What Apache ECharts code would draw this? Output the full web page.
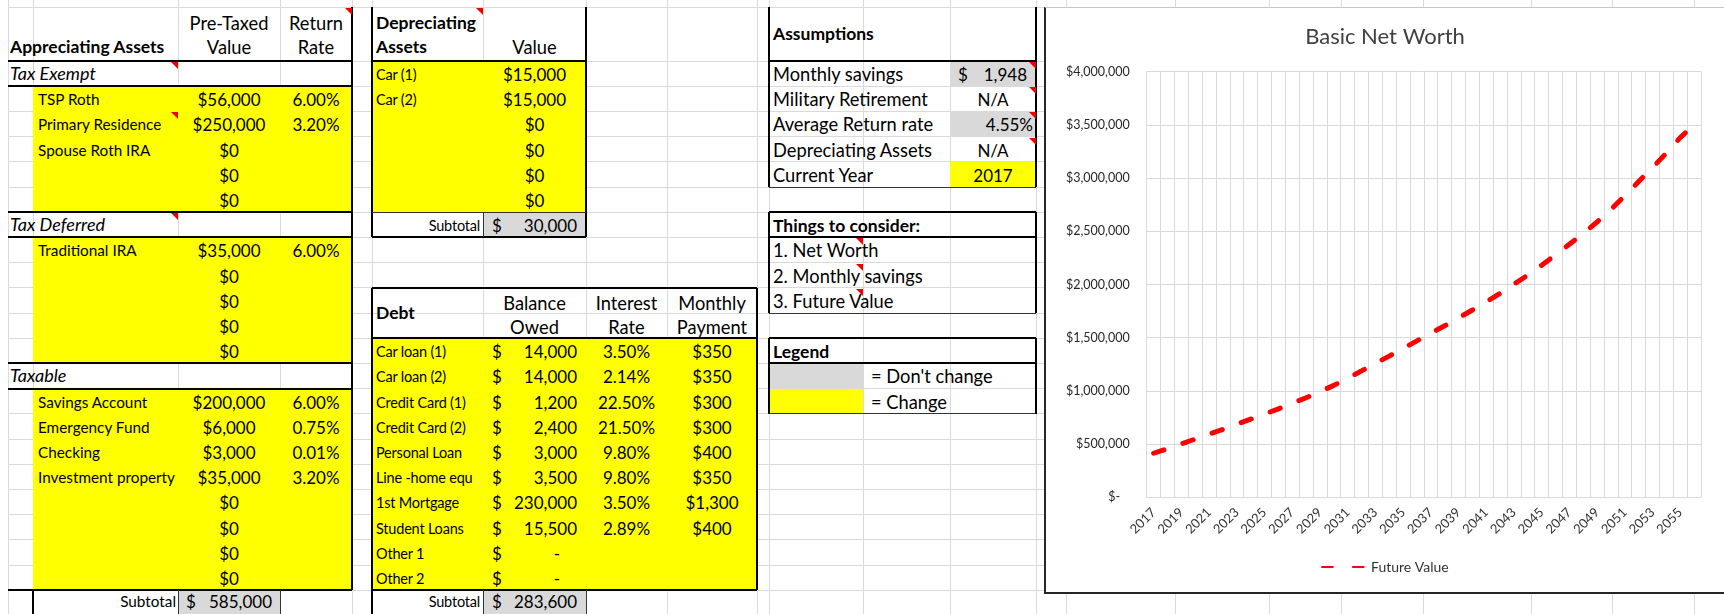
<!DOCTYPE html>
<html>
<head>
<meta charset="utf-8">
<script src="https://cdn.jsdelivr.net/npm/echarts@6/dist/echarts.min.js"></script>
<style>
html, body { margin: 0; padding: 0; background: #fff; overflow: hidden; width: 1724px; height: 614px; }
#sheet { position: absolute; left: 0; top: 0; width: 1724px; height: 614px; overflow: hidden; font-family: Lato, 'Noto Sans', sans-serif; color: #000; }
#sheet div { position: absolute; box-sizing: border-box; white-space: nowrap; }
#frame { position: absolute; left: 1044px; top: 7px; width: 720px; height: 587px; background: #fff;
  border-left: 2px solid #262626; border-bottom: 2px solid #262626; border-top: 1px solid #c8c8c8; box-sizing: border-box; }
#chart { position: absolute; left: 1046px; top: 9px; width: 690px; height: 583px; }
</style>
</head>
<body>
<div id="sheet"></div>
<div id="frame"></div>
<div id="chart"></div>
<script>
// ---- chart data ----
const years = ['2017','2018','2019','2020','2021','2022','2023','2024','2025','2026',
               '2027','2028','2029','2030','2031','2032','2033','2034','2035','2036',
               '2037','2038','2039','2040','2041','2042','2043','2044','2045','2046',
               '2047','2048','2049','2050','2051','2052','2053','2054','2055','2056']
const futureValue = [414000, 458000, 502000, 548000, 594000, 639000, 686000, 734000, 782000, 831000,
                     883000, 936000, 992000, 1052000, 1118000, 1188000, 1259000, 1327000, 1398000, 1470000,
                     1542000, 1612000, 1685000, 1760000, 1837000, 1916000, 2002000, 2088000, 2181000, 2277000,
                     2378000, 2480000, 2587000, 2705000, 2834000, 2967000, 3099000, 3234000, 3381000, 3500000]

// ---- sheet content ----
const taxExempt = [['TSP Roth', '$56,000', '6.00%'], ['Primary Residence', '$250,000', '3.20%'],
                   ['Spouse Roth IRA', '$0', ''], ['', '$0', ''], ['', '$0', '']]
const taxDeferred = [['Traditional IRA', '$35,000', '6.00%'], ['', '$0', ''], ['', '$0', ''], ['', '$0', ''], ['', '$0', '']]
const taxable = [['Savings Account', '$200,000', '6.00%'], ['Emergency Fund', '$6,000', '0.75%'],
                 ['Checking', '$3,000', '0.01%'], ['Investment property', '$35,000', '3.20%'],
                 ['', '$0', ''], ['', '$0', ''], ['', '$0', ''], ['', '$0', '']]
const depreciating = [['Car (1)', '$15,000'], ['Car (2)', '$15,000'], ['', '$0'], ['', '$0'], ['', '$0'], ['', '$0']]
const debts = [['Car loan (1)', '14,000', '3.50%', '$350'], ['Car loan (2)', '14,000', '2.14%', '$350'],
               ['Credit Card (1)', '1,200', '22.50%', '$300'], ['Credit Card (2)', '2,400', '21.50%', '$300'],
               ['Personal Loan', '3,000', '9.80%', '$400'], ['Line -home equ', '3,500', '9.80%', '$350'],
               ['1st Mortgage', '230,000', '3.50%', '$1,300'], ['Student Loans', '15,500', '2.89%', '$400'],
               ['Other 1', '-', '', ''], ['Other 2', '-', '', '']]
const assumptions = ['Monthly savings', 'Military Retirement', 'Average Return rate', 'Depreciating Assets', 'Current Year']
const considerations = ['1. Net Worth', '2. Monthly savings', '3. Future Value']

const sheet = document.getElementById('sheet')
const H = 25.2
const rowY = r => 61 + H * r
const GRID = '#dadada'
const YELLOW = '#ffff00'
const GREY = '#d9d9d9'

function rect (x1, y1, x2, y2, css) {
    let d = document.createElement('div')
    d.style.left = x1 + 'px'
    d.style.top = y1 + 'px'
    d.style.width = (x2 - x1) + 'px'
    d.style.height = (y2 - y1) + 'px'
    Object.assign(d.style, css || {})
    sheet.appendChild(d)
    return d
}
function text (x1, x2, y1, y2, str, align, css) {
    if (!str) return
    let d = rect(x1, y1, x2, y2, Object.assign({
        lineHeight: (y2 - y1) + 'px', textAlign: align || 'left', fontSize: '17px'
    }, css))
    d.textContent = str
}
function hline (x1, x2, y, w, c) { rect(x1, y - w / 2, x2, y + w / 2, { background: c || '#000' }) }
function vline (x, y1, y2, w, c) { rect(x - w / 2, y1, x + w / 2, y2, { background: c || '#000' }) }
function flag (x, y) {
    rect(x - 7, y + 1, x, y + 8, { width: '0px', height: '0px', borderTop: '7px solid #e00', borderLeft: '7px solid transparent' })
}
const LABEL = { fontSize: '15.3px' }        // labels inside the asset tables
const SMALL = { fontSize: '14.5px', letterSpacing: '-0.2px' }
const WORD = { fontSize: '18.3px' }         // plain words in the Calibri look
const BOLD = { fontWeight: 'bold', fontSize: '17.5px' }
const ITAL = { fontStyle: 'italic', fontSize: '18px' }

// gridlines
const cols = [8, 33, 178, 280, 352, 372, 483, 586, 667, 757, 769, 863, 950, 1036, 1066, 1175, 1269, 1341, 1423, 1531, 1612, 1694]
cols.forEach(x => vline(x, 0, 614, 1, GRID))
hline(8, 1724, 7, 1, GRID)
for (let r = 0; r <= 22; r++) hline(8, 1724, rowY(r), 1, GRID)

// fills
rect(33, rowY(1), 352, rowY(6), { background: YELLOW })
rect(33, rowY(7), 352, rowY(12), { background: YELLOW })
rect(33, rowY(13), 352, rowY(21), { background: YELLOW })
rect(178, rowY(21), 280, 614, { background: GREY })
rect(372, rowY(0), 586, rowY(6), { background: YELLOW })
rect(483, rowY(6), 586, rowY(7), { background: GREY })
rect(372, rowY(11), 757, rowY(21), { background: YELLOW })
rect(483, rowY(21), 586, 614, { background: GREY })
rect(950, rowY(0), 1036, rowY(1), { background: GREY })
rect(950, rowY(2), 1036, rowY(3), { background: GREY })
rect(950, rowY(4), 1036, rowY(5), { background: YELLOW })
rect(769, rowY(12), 863, rowY(13), { background: GREY })
rect(769, rowY(13), 863, rowY(14), { background: YELLOW })

// appreciating assets table
;[61, rowY(1), rowY(6), rowY(7), rowY(12), rowY(13), rowY(21)].forEach(y => hline(8, 352, y, 2))
vline(352, 7, rowY(21), 2)
vline(33, rowY(21), 614, 2)
vline(178, rowY(21), 614, 1, '#333')
vline(280, rowY(21), 614, 1, '#333')
text(10, 178, 34, 60, 'Appreciating Assets', 'left', BOLD)
text(178, 280, 11, 35, 'Pre-Taxed', 'center', WORD)
text(178, 280, 35, 59, 'Value', 'center', WORD)
text(280, 352, 11, 35, 'Return', 'center', WORD)
text(280, 352, 35, 59, 'Rate', 'center', WORD)
function assetRows (rows, r0) {
    rows.forEach((row, i) => {
        let y1 = rowY(r0 + i) + 1, y2 = rowY(r0 + i + 1) + 1
        text(38, 178, y1, y2, row[0], 'left', LABEL)
        text(178, 280, y1, y2, row[1], 'center')
        text(280, 352, y1, y2, row[2], 'center')
    })
}
text(10, 178, rowY(0), rowY(1), 'Tax Exempt', 'left', ITAL)
assetRows(taxExempt, 1)
text(10, 178, rowY(6), rowY(7), 'Tax Deferred', 'left', ITAL)
assetRows(taxDeferred, 7)
text(10, 178, rowY(12), rowY(13), 'Taxable', 'left', ITAL)
assetRows(taxable, 13)
text(33, 176, rowY(21), 614, 'Subtotal', 'right', LABEL)
text(186, 280, rowY(21), 614, '$', 'left')
text(178, 272, rowY(21), 614, '585,000', 'right')
flag(352, 7); flag(178, rowY(0)); flag(178, rowY(2)); flag(178, rowY(6))

// depreciating assets table
vline(372, 7, rowY(7), 2)
vline(586, 7, rowY(7), 2)
hline(372, 586, 61, 2)
hline(372, 586, rowY(6), 1, '#333')
hline(372, 586, rowY(7), 2)
vline(483, rowY(6), rowY(7), 1, '#333')
text(376, 483, 11, 35, 'Depreciating', 'left', BOLD)
text(376, 483, 35, 59, 'Assets', 'left', BOLD)
text(483, 586, 35, 59, 'Value', 'center', WORD)
depreciating.forEach((row, i) => {
    text(376, 483, rowY(i) + 1, rowY(i + 1) + 1, row[0], 'left', SMALL)
    text(483, 586, rowY(i) + 1, rowY(i + 1) + 1, row[1], 'center')
})
text(372, 480, rowY(6) + 1, rowY(7) + 1, 'Subtotal', 'right', SMALL)
text(492, 586, rowY(6) + 1, rowY(7) + 1, '$', 'left')
text(483, 577, rowY(6) + 1, rowY(7) + 1, '30,000', 'right')
flag(483, 7)

// debt table
hline(372, 757, rowY(9), 2)
hline(372, 757, rowY(11), 2)
hline(372, 757, rowY(21), 2)
vline(372, rowY(9), 614, 2)
vline(757, rowY(9), rowY(21), 2)
vline(483, rowY(21), 614, 1, '#333')
vline(586, rowY(21), 614, 1, '#333')
text(376, 483, rowY(9), rowY(11), 'Debt', 'left', BOLD)
text(483, 586, rowY(9) + 3, rowY(10) + 3, 'Balance', 'center', WORD)
text(483, 586, rowY(10) + 2, rowY(11) + 2, 'Owed', 'center', WORD)
text(586, 667, rowY(9) + 3, rowY(10) + 3, 'Interest', 'center', WORD)
text(586, 667, rowY(10) + 2, rowY(11) + 2, 'Rate', 'center', WORD)
text(667, 757, rowY(9) + 3, rowY(10) + 3, 'Monthly', 'center', WORD)
text(667, 757, rowY(10) + 2, rowY(11) + 2, 'Payment', 'center', WORD)
debts.forEach((row, i) => {
    let y1 = rowY(11 + i) + 1, y2 = rowY(12 + i) + 1
    text(376, 483, y1, y2, row[0], 'left', SMALL)
    text(492, 586, y1, y2, '$', 'left')
    text(483, row[1] === '-' ? 560 : 577, y1, y2, row[1], 'right')
    text(586, 667, y1, y2, row[2], 'center')
    text(667, 757, y1, y2, row[3], 'center')
})
text(372, 480, rowY(21), 614, 'Subtotal', 'right', SMALL)
text(492, 586, rowY(21), 614, '$', 'left')
text(483, 577, rowY(21), 614, '283,600', 'right')

// assumptions
vline(769, 7, rowY(5), 2)
vline(1036, 7, rowY(5), 2)
hline(769, 1036, 61, 2)
hline(769, 1036, rowY(5), 1, '#333')
text(773, 950, 7, 61, 'Assumptions', 'left', BOLD)
assumptions.forEach((s, i) => text(773, 950, rowY(i) + 1, rowY(i + 1) + 1, s, 'left', WORD))
text(958, 1036, rowY(0) + 1, rowY(1) + 1, '$', 'left')
text(950, 1027, rowY(0) + 1, rowY(1) + 1, '1,948', 'right')
text(950, 1036, rowY(1) + 1, rowY(2) + 1, 'N/A', 'center')
text(950, 1033, rowY(2) + 1, rowY(3) + 1, '4.55%', 'right')
text(950, 1036, rowY(3) + 1, rowY(4) + 1, 'N/A', 'center')
text(950, 1036, rowY(4) + 1, rowY(5) + 1, '2017', 'center')
for (let i = 0; i < 4; i++) flag(1036, rowY(i))

// things to consider
hline(769, 1036, rowY(6), 2)
hline(769, 1036, rowY(7), 2)
hline(769, 1036, rowY(10), 1, '#333')
vline(769, rowY(6), rowY(10), 2)
vline(1036, rowY(6), rowY(10), 2)
text(773, 1036, rowY(6) + 1, rowY(7) + 1, 'Things to consider:', 'left', BOLD)
considerations.forEach((s, i) => {
    text(773, 1036, rowY(7 + i) + 1, rowY(8 + i) + 1, s, 'left', WORD)
    flag(863, rowY(7 + i))
})

// legend
hline(769, 1036, rowY(11), 2)
hline(769, 1036, rowY(12), 2)
hline(769, 1036, rowY(14), 1, '#333')
vline(769, rowY(11), rowY(14), 2)
vline(1036, rowY(11), rowY(14), 2)
text(773, 1036, rowY(11) + 1, rowY(12) + 1, 'Legend', 'left', BOLD)
text(871, 1036, rowY(12) + 1, rowY(13) + 1, "= Don't change", 'left', WORD)
text(871, 1036, rowY(13) + 1, rowY(14) + 1, '= Change', 'left', WORD)

// ---- chart ----
let option = {
    animation: false,
    backgroundColor: '#fff',
    textStyle: { fontFamily: 'Lato' },
    title: {
        text: 'Basic Net Worth',
        left: 339,
        top: 17,
        padding: 0,
        textAlign: 'center',
        textStyle: { fontSize: 22, fontWeight: 'normal', color: '#404040', fontFamily: 'Lato' }
    },
    grid: { left: 100.7, top: 62.7, width: 554.3, height: 425.6 },
    legend: {
        data: ['Future Value'],
        left: 275,
        top: 551,
        padding: 0,
        itemWidth: 44,
        itemHeight: 10,
        itemGap: 4,
        itemStyle: { opacity: 0 },
        textStyle: { fontSize: 14, color: '#333', fontFamily: 'Lato' }
    },
    xAxis: {
        type: 'category',
        data: years,
        boundaryGap: true,
        axisLine: { lineStyle: { color: '#d9d9d9' } },
        axisTick: { show: false },
        axisLabel: { interval: 1, rotate: 45, margin: 13, fontSize: 13, color: '#333' },
        splitLine: { show: true, interval: 0, lineStyle: { color: '#d9d9d9' } }
    },
    yAxis: {
        type: 'value',
        min: 0,
        max: 4000000,
        interval: 500000,
        axisLine: { show: true, lineStyle: { color: '#d9d9d9' } },
        axisLabel: {
            margin: 17,
            fontSize: 12.5,
            color: '#262626',
            formatter: v => v === 0 ? '$-   ' : '$' + v.toLocaleString('en-US')
        },
        splitLine: { lineStyle: { color: '#d9d9d9' } }
    },
    series: [{
        name: 'Future Value',
        type: 'line',
        data: futureValue,
        symbol: 'none',
        itemStyle: { color: '#ff0000' },
        lineStyle: { color: '#ff0000', width: 5, type: [10.8, 20.1], cap: 'round' }
    }]
}
let chart = echarts.init(document.getElementById('chart'))
chart.setOption(option)
</script>
</body>
</html>
